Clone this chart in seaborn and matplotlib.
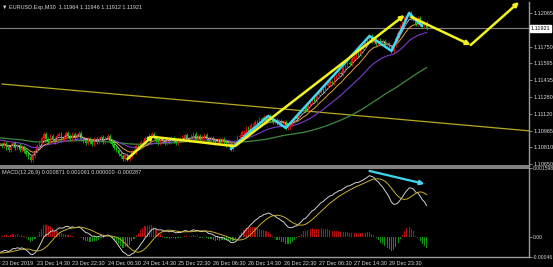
import numpy as np
import pandas as pd
import matplotlib
matplotlib.use("Agg")
import matplotlib.pyplot as plt
import seaborn as sns

# ---------------- data ----------------
title_text = "\u25bc EURUSD.Exp,M30  1.11964 1.11946 1.11912 1.11921"
macd_text = "MACD(12,26,9) 0.000871 0.001091 0.000000 -0.000287"

# bars before the visible window (only feed the indicators)
pre_close = [1.11010, 1.11002, 1.10985, 1.10990, 1.10972, 1.10965, 1.10958, 1.10940, 1.10948, 1.10931,
             1.10925, 1.10918, 1.10902, 1.10910, 1.10895, 1.10887, 1.10880, 1.10868, 1.10872, 1.10860,
             1.10851, 1.10845, 1.10838, 1.10842, 1.10830, 1.10825, 1.10833, 1.10820, 1.10826, 1.10830]

close = [1.10821, 1.10850, 1.10803, 1.10784, 1.10831, 1.10850, 1.10803, 1.10831, 1.10784, 1.10812,
         1.10775, 1.10747, 1.10719, 1.10691, 1.10728,
         1.10775, 1.10821, 1.10859, 1.10896,
         1.10934, 1.10887, 1.10868, 1.10915, 1.10887, 1.10859, 1.10915, 1.10934, 1.10887,
         1.10906, 1.10943, 1.10915, 1.10887, 1.10934, 1.10896, 1.10924, 1.10943, 1.10887,
         1.10868, 1.10850, 1.10887, 1.10859, 1.10840, 1.10887, 1.10859,
         1.10887, 1.10906, 1.10859, 1.10896, 1.10915, 1.10868,
         1.10840, 1.10803, 1.10784, 1.10747, 1.10728, 1.10700, 1.10737, 1.10700,
         1.10728, 1.10775, 1.10765, 1.10821, 1.10812, 1.10859, 1.10859, 1.10896, 1.10887, 1.10924, 1.10934,
         1.10906, 1.10878, 1.10850, 1.10887, 1.10868, 1.10850, 1.10887, 1.10859, 1.10896, 1.10868, 1.10850, 1.10887, 1.10878,
         1.10906, 1.10924, 1.10887, 1.10878, 1.10915, 1.10934, 1.10887, 1.10915, 1.10878, 1.10906, 1.10924, 1.10887, 1.10859, 1.10896,
         1.10868, 1.10850, 1.10878, 1.10850, 1.10887, 1.10850, 1.10831, 1.10840,
         1.10793,
         1.10840, 1.10859, 1.10906, 1.10915, 1.10952, 1.10952, 1.10990,
         1.10980, 1.11018, 1.11018, 1.11046, 1.11037, 1.11074, 1.11055, 1.11093, 1.11074, 1.11102,
         1.11065, 1.11046, 1.11065, 1.11037, 1.11055, 1.11027, 1.11046,
         1.10990, 1.10999,
         1.11027, 1.11055, 1.11093, 1.11074, 1.11130, 1.11149, 1.11177, 1.11158, 1.11214, 1.11233,
         1.11261, 1.11242, 1.11298, 1.11317, 1.11345, 1.11336, 1.11382, 1.11401, 1.11420, 1.11411,
         1.11467, 1.11476, 1.11504, 1.11495, 1.11551, 1.11570, 1.11598, 1.11588, 1.11635, 1.11654,
         1.11682, 1.11672, 1.11728, 1.11747, 1.11785,
         1.11813, 1.11850,
         1.11803, 1.11822, 1.11775, 1.11813, 1.11785, 1.11803, 1.11766, 1.11775,
         1.11747, 1.11710,
         1.11766, 1.11831, 1.11878, 1.11943, 1.11972, 1.12028, 1.12037, 1.12065,
         1.12018, 1.12009, 1.11962, 1.12018, 1.11962, 1.11943, 1.11972, 1.11921]

time_ticks = [0, 16, 32, 48, 64, 80, 96, 112, 128, 144, 160, 176]
time_labels = ["23 Dec 2019", "23 Dec 14:30", "23 Dec 22:30", "24 Dec 06:30", "24 Dec 14:30",
               "25 Dec 22:30", "26 Dec 06:30", "26 Dec 14:30", "26 Dec 22:30", "27 Dec 06:30",
               "27 Dec 14:30", "29 Dec 23:30"]

price_ticks = [1.12065, 1.11750, 1.11595, 1.11435, 1.11280, 1.11120, 1.10965, 1.10810, 1.10650]
price_labels = ["1.12065", "1.11750", "1.11595", "1.11435", "1.11280", "1.11120", "1.10965", "1.10810", "1.10650"]
current_price = 1.11921
current_label = "1.11921"

macd_ticks = [0.001598, 0.0, -0.000464]
macd_labels = ["0.001598", "0.00", "-0.00046"]

# zigzag swing points (bar index, price)
zigzag_bars = [104, 121, 129, 167, 177, 185, 191]
zigzag_prices = [1.10793, 1.11102, 1.10990, 1.11850, 1.11710, 1.12065, 1.11943]

# long trend line
trend_bars = [0, 240]
trend_prices = [1.11401, 1.10962]

# hand-drawn yellow arrows
arrow_start_bars = [57, 69, 106, 186, 213]
arrow_start_prices = [1.10700, 1.10906, 1.10821, 1.12028, 1.11766]
arrow_end_bars = [69, 105, 183, 213, 235]
arrow_end_prices = [1.10924, 1.10821, 1.12046, 1.11766, 1.12168]
arrow_heads = [True, False, True, True, True]

# cyan arrow on MACD
macd_arrow_bars = [167, 192]
macd_arrow_vals = [0.00153, 0.00123]

# ---------------- style ----------------
sns.set_theme(style="dark")
plt.rcParams['font.family'] = ['Liberation Sans', 'DejaVu Sans']

BG = "black"
AXC = "#9a9a9a"
TXT = "#d8d8d8"
UP = "#e01010"
DN = "#10c010"

fig = plt.figure(figsize=(5.53, 2.67), dpi=100, facecolor=BG)
W = 529 / 553
ax = fig.add_axes([0, 1 - 166 / 267, W, 164 / 267])
axm = fig.add_axes([0, 1 - 257 / 267, W, 89 / 267])

for a in (ax, axm):
    a.set_facecolor(BG)
    a.grid(False)
    for s in a.spines.values():
        s.set_color(AXC)
        s.set_linewidth(1.0)
    a.spines['left'].set_visible(False)
    a.spines['top'].set_visible(False)
ax.spines['bottom'].set_linewidth(1.2)
axm.spines['top'].set_visible(True)
axm.spines['top'].set_linewidth(1.2)

# ---------------- indicators ----------------
full = pd.Series(pre_close + close)
xs_full = np.arange(-len(pre_close), len(close))
ema_fast = full.ewm(span=5, adjust=False).mean()
ema_mid = full.ewm(span=11, adjust=False).mean()
ema_slow = full.ewm(span=26, adjust=False).mean()
sma_long = full.rolling(70, min_periods=1).mean()
macd = full.ewm(span=12, adjust=False).mean() - full.ewm(span=26, adjust=False).mean()
signal = macd.rolling(9, min_periods=1).mean()
hist = macd - signal

x = np.arange(len(close))
c = np.array(close)
o = np.r_[pre_close[-1], c[:-1]]
wick = 0.00015
hi = np.maximum(o, c) + wick
lo = np.minimum(o, c) - wick
cols = np.where(c >= o, UP, DN)

# ---------------- main panel ----------------
sns.lineplot(x=trend_bars, y=trend_prices, ax=ax, color="#b8a820", lw=0.9, estimator=None, sort=False, legend=False)
ax.axhline(current_price, color="#808080", lw=0.8)

sns.lineplot(x=xs_full, y=sma_long.values, ax=ax, color="#3c8a3c", lw=0.9, estimator=None, sort=False, legend=False)
sns.lineplot(x=xs_full, y=ema_slow.values, ax=ax, color="#7a3cc8", lw=0.8, estimator=None, sort=False, legend=False)
sns.lineplot(x=xs_full, y=ema_mid.values, ax=ax, color="#e0a040", lw=0.7, estimator=None, sort=False, legend=False)
sns.lineplot(x=xs_full, y=ema_fast.values, ax=ax, color="#d8c8e0", lw=0.6, estimator=None, sort=False, legend=False)

ax.vlines(x, lo, hi, colors=cols, linewidth=0.6)
ax.bar(x, np.maximum(np.abs(c - o), 0.00003), bottom=np.minimum(o, c), width=0.65, color=cols, linewidth=0)

sns.lineplot(x=zigzag_bars, y=zigzag_prices, ax=ax, color="#40d8f0", lw=1.8, estimator=None, sort=False, legend=False)

for sb, sp, eb, ep, hd in zip(arrow_start_bars, arrow_start_prices, arrow_end_bars, arrow_end_prices, arrow_heads):
    ax.annotate("", xy=(eb, ep), xytext=(sb, sp),
                arrowprops=dict(arrowstyle="-|>" if hd else "-", color="#f4f41c", lw=1.8,
                                mutation_scale=6, shrinkA=0, shrinkB=0))

ax.set_xlim(-0.9, 239.5)
ax.set_ylim(1.10634, 1.12168)
ax.yaxis.tick_right()
ax.set_yticks(price_ticks)
ax.set_yticklabels(price_labels)
ax.tick_params(axis='y', colors=AXC, labelcolor=TXT, labelsize=4, length=2, width=0.6, pad=1)
ax.set_xticks([])
ax.text(1.003, current_price, current_label, transform=ax.get_yaxis_transform(), fontsize=4,
        color="black", va="center", ha="left",
        bbox=dict(boxstyle="square,pad=0.15", facecolor="white", edgecolor="white"))
ax.text(0.004, 0.968, title_text, transform=ax.transAxes, fontsize=4, color=TXT, va="center", ha="left")

# ---------------- MACD panel ----------------
axm.bar(xs_full, hist.values, width=0.5, color=np.where(hist.values >= 0, "#b01010", "#109010"), linewidth=0)
sns.lineplot(x=xs_full, y=macd.values, ax=axm, color="#d0d0d0", lw=0.7, estimator=None, sort=False, legend=False)
sns.lineplot(x=xs_full, y=signal.values, ax=axm, color="#c8b030", lw=0.7, estimator=None, sort=False, legend=False)
axm.annotate("", xy=(macd_arrow_bars[1], macd_arrow_vals[1]), xytext=(macd_arrow_bars[0], macd_arrow_vals[0]),
             arrowprops=dict(arrowstyle="-|>", color="#40d8f0", lw=1.6, mutation_scale=6, shrinkA=0, shrinkB=0))

axm.set_xlim(-0.9, 239.5)
axm.set_ylim(-0.000463, 0.001598)
axm.yaxis.tick_right()
axm.set_yticks(macd_ticks)
axm.set_yticklabels(macd_labels)
axm.tick_params(axis='y', colors=AXC, labelcolor=TXT, labelsize=3.6, length=2, width=0.6, pad=0.8)
axm.set_xticks(time_ticks)
axm.set_xticklabels(time_labels, ha="left")
axm.tick_params(axis='x', colors=AXC, labelcolor=TXT, labelsize=4, length=2, width=0.6, pad=1)
axm.text(0.004, 0.955, macd_text, transform=axm.transAxes, fontsize=4, color=TXT, va="center", ha="left")

fig.savefig("out.png", dpi=100, facecolor=BG)
